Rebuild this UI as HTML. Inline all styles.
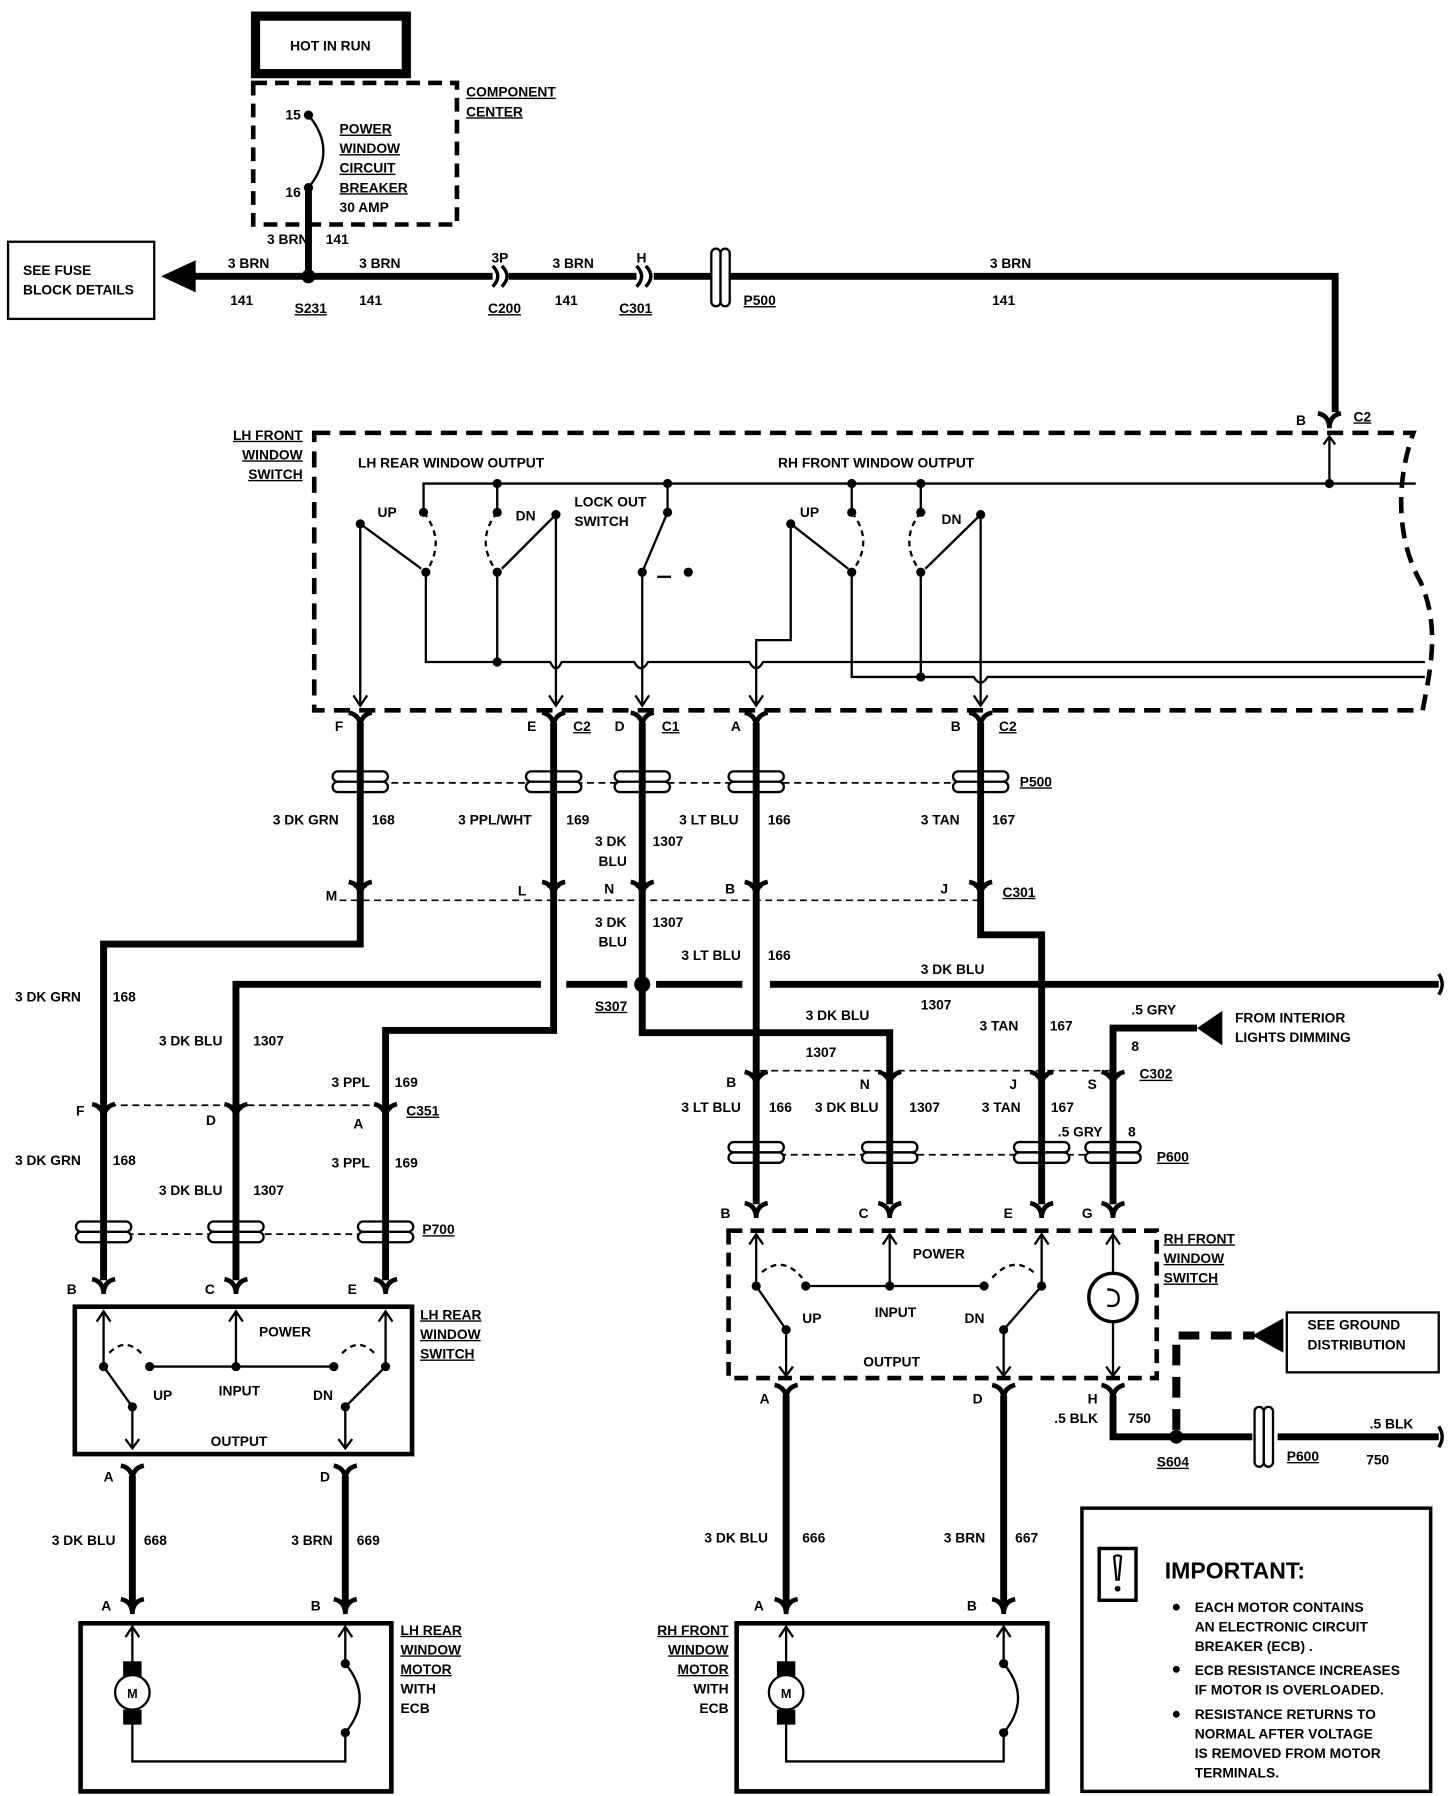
<!DOCTYPE html>
<html><head><meta charset="utf-8"><style>
html,body{margin:0;padding:0;background:#fff}
svg{display:block}
text{font-family:"Liberation Sans",sans-serif;font-weight:bold;font-size:12px;fill:#000}
.u{text-decoration:underline}
</style></head><body>
<svg width="1456" height="1796" viewBox="0 0 1265 1560" preserveAspectRatio="none" xmlns="http://www.w3.org/2000/svg">
<defs>
<g id="fk"><path d="M-10,-9 Q0,-7 0,4 M10,-9 Q0,-7 0,4" stroke="#000" stroke-width="4" fill="none"/></g>
<g id="pc"><rect x="-24" y="-9" width="48" height="9" rx="4.5" fill="#fff" stroke="#000" stroke-width="2"/><rect x="-24" y="0" width="48" height="9" rx="4.5" fill="#fff" stroke="#000" stroke-width="2"/><rect x="-3" y="-9" width="6" height="18" fill="#000"/></g>
<g id="ch"><path d="M-5,6 L0,-1 L5,6" stroke="#000" stroke-width="2" fill="none"/></g>
</defs>
<rect width="1265" height="1560" fill="#fff"/>

<!-- top -->
<rect x="222" y="14" width="131" height="50" fill="#fff" stroke="#000" stroke-width="8"/>
<text x="287" y="44" text-anchor="middle">HOT IN RUN</text>
<rect x="220" y="72" width="177" height="123" fill="none" stroke="#000" stroke-width="4" stroke-dasharray="12,7"/>
<text x="405" y="84" class="u">COMPONENT</text><text x="405" y="101" class="u">CENTER</text>
<circle cx="268" cy="100" r="4"/><circle cx="268" cy="163" r="4"/>
<path d="M268,100 Q294,131 268,163" stroke="#000" stroke-width="2" fill="none"/>
<text x="248" y="104">15</text><text x="248" y="171">16</text>
<text x="295" y="116" class="u">POWER</text><text x="295" y="133" class="u">WINDOW</text><text x="295" y="150" class="u">CIRCUIT</text><text x="295" y="167" class="u">BREAKER</text><text x="295" y="184">30 AMP</text>
<line x1="268" y1="163" x2="268" y2="240" stroke="#000" stroke-width="6"/>
<text x="232" y="212">3 BRN</text><text x="283" y="212">141</text>
<path d="M160,240 H428 M442,240 H553 M568,240 H620 M633,240 H1160 V358" stroke="#000" stroke-width="6" fill="none"/>
<polygon points="140,240 170,226 170,254"/>
<rect x="7" y="210" width="127" height="67" fill="none" stroke="#000" stroke-width="2"/>
<text x="20" y="239">SEE FUSE</text><text x="20" y="256">BLOCK DETAILS</text>
<circle cx="268" cy="240" r="6"/>
<path d="M428,231 Q437,240 428,249 M436,231 Q445,240 436,249" stroke="#000" stroke-width="3" fill="none"/>
<path d="M553,231 Q562,240 553,249 M561,231 Q570,240 561,249" stroke="#000" stroke-width="3" fill="none"/>
<rect x="618" y="216" width="8" height="50" rx="4" fill="#fff" stroke="#000" stroke-width="2"/><rect x="626" y="216" width="8" height="50" rx="4" fill="#fff" stroke="#000" stroke-width="2"/>
<text x="198" y="233">3 BRN</text><text x="200" y="265">141</text><text x="256" y="272" class="u">S231</text>
<text x="312" y="233">3 BRN</text><text x="312" y="265">141</text>
<text x="427" y="228">3P</text><text x="424" y="272" class="u">C200</text>
<text x="480" y="233">3 BRN</text><text x="482" y="265">141</text>
<text x="553" y="228">H</text><text x="538" y="272" class="u">C301</text>
<text x="646" y="265" class="u">P500</text>
<text x="860" y="233">3 BRN</text><text x="862" y="265">141</text>
<use href="#fk" x="1155" y="368"/>
<text x="1126" y="369">B</text><text x="1176" y="366" class="u">C2</text>
<line x1="1155" y1="380" x2="1155" y2="420" stroke="#000" stroke-width="2"/><use href="#ch" x="1155" y="380"/>

<!-- LH front switch box -->
<path d="M273,376 H1228 C1212,420 1214,470 1234,505 C1252,545 1242,585 1236,617 H273 Z" fill="none" stroke="#000" stroke-width="4" stroke-dasharray="14,8"/>
<text x="263" y="382" text-anchor="end" class="u">LH  FRONT</text><text x="263" y="399" text-anchor="end" class="u">WINDOW</text><text x="263" y="416" text-anchor="end" class="u">SWITCH</text>
<text x="311" y="406">LH REAR WINDOW OUTPUT</text><text x="676" y="406">RH FRONT WINDOW OUTPUT</text>
<text x="328" y="449">UP</text><text x="448" y="452">DN</text><text x="499" y="440">LOCK OUT</text><text x="499" y="457">SWITCH</text>
<text x="695" y="449">UP</text><text x="818" y="455">DN</text>
<g stroke="#000" stroke-width="2" fill="none">
<path d="M368,445 V420 H1230"/>
<path d="M432,420 V445 M580,420 V445 M740,420 V445 M800,420 V445"/>
<path d="M370,497 V575 H478 Q483,586 488,575 H551 Q557,586 563,575 H651 Q657,586 663,575 H1238"/>
<path d="M432,497 V575"/>
<path d="M313,455 V612 M483,447 V612 M558,497 V612 M657,612 V556 H687 V455 M852,447 V612"/>
<path d="M580,445 L558,497"/>
<path d="M313,455 L366,494 M483,447 L436,494 M687,455 L737,494 M852,447 L804,494"/>
<path d="M740,497 V588 H846 Q852,598 858,588 H1238 M800,497 V588"/>
<path d="M368,445 Q388,470 370,497 M432,445 Q412,470 432,497 M740,445 Q760,470 740,497 M800,445 Q780,470 800,497" stroke-dasharray="5,4"/>
<path d="M571,501 H583"/>
</g>
<g>
<circle cx="368" cy="445" r="4"/><circle cx="370" cy="497" r="4"/><circle cx="432" cy="445" r="4"/><circle cx="432" cy="497" r="4"/><circle cx="432" cy="420" r="4"/><circle cx="580" cy="420" r="4"/><circle cx="740" cy="420" r="4"/><circle cx="800" cy="420" r="4"/><circle cx="1155" cy="420" r="4"/>
<circle cx="580" cy="445" r="4"/><circle cx="558" cy="497" r="4"/><circle cx="598" cy="497" r="4"/>
<circle cx="313" cy="455" r="4"/><circle cx="483" cy="447" r="4"/><circle cx="687" cy="455" r="4"/><circle cx="852" cy="447" r="4"/>
<circle cx="740" cy="445" r="4"/><circle cx="740" cy="497" r="4"/><circle cx="800" cy="445" r="4"/><circle cx="800" cy="497" r="4"/>
<circle cx="432" cy="575" r="4"/><circle cx="800" cy="588" r="4"/>
</g>
<g stroke="#000" stroke-width="2" fill="none">
<path d="M307,604 L313,613 L319,604 M477,604 L483,613 L489,604 M552,604 L558,613 L564,604 M651,604 L657,613 L663,604 M846,604 L852,613 L858,604"/>
</g>

<!-- thick wires mid -->
<g stroke="#000" stroke-width="6" fill="none">
<path d="M313,628 V820 H90 V1112"/>
<path d="M481,628 V895 H335 V1112"/>
<path d="M558,628 V897 H773 V1046"/>
<path d="M657,628 V1046"/>
<path d="M852,628 V812 H905 V1046"/>
<path d="M205,1112 V855 H470 M492,855 H545 M570,855 H645 M669,855 H1250"/>
<path d="M1040,893 H967 V1046"/>
</g>
<circle cx="558" cy="855" r="7"/>
<path d="M1250,846 Q1256,855 1250,864" stroke="#000" stroke-width="3" fill="none"/>
<polygon points="1040,893 1062,878 1062,908"/>
<text x="1073" y="888">FROM INTERIOR</text><text x="1073" y="905">LIGHTS DIMMING</text>

<!-- connector rows -->
<use href="#fk" x="313" y="628"/><use href="#fk" x="481" y="628"/><use href="#fk" x="558" y="628"/><use href="#fk" x="657" y="628"/><use href="#fk" x="852" y="628"/>
<text x="291" y="635">F</text><text x="458" y="635">E</text><text x="498" y="635" class="u">C2</text><text x="534" y="635">D</text><text x="575" y="635" class="u">C1</text><text x="635" y="635">A</text><text x="826" y="635">B</text><text x="868" y="635" class="u">C2</text>
<line x1="290" y1="680" x2="880" y2="680" stroke="#000" stroke-width="1.5" stroke-dasharray="6,4"/>
<use href="#pc" x="313" y="679"/><use href="#pc" x="481" y="679"/><use href="#pc" x="558" y="679"/><use href="#pc" x="657" y="679"/><use href="#pc" x="852" y="679"/>
<text x="886" y="683" class="u">P500</text>
<text x="237" y="716">3 DK GRN</text><text x="323" y="716">168</text>
<text x="398" y="716">3 PPL/WHT</text><text x="492" y="716">169</text>
<text x="517" y="735">3 DK</text><text x="520" y="752">BLU</text><text x="567" y="735">1307</text>
<text x="590" y="716">3 LT BLU</text><text x="667" y="716">166</text>
<text x="800" y="716">3 TAN</text><text x="862" y="716">167</text>
<line x1="295" y1="782" x2="850" y2="782" stroke="#000" stroke-width="1.5" stroke-dasharray="6,4"/>
<use href="#fk" x="313" y="775"/><use href="#fk" x="481" y="775"/><use href="#fk" x="558" y="775"/><use href="#fk" x="657" y="775"/><use href="#fk" x="852" y="775"/>
<use href="#ch" x="313" y="765"/><use href="#ch" x="481" y="765"/><use href="#ch" x="558" y="765"/><use href="#ch" x="657" y="765"/><use href="#ch" x="852" y="765"/>
<text x="283" y="782">M</text><text x="450" y="778">L</text><text x="525" y="776">N</text><text x="630" y="776">B</text><text x="817" y="776">J</text><text x="871" y="779" class="u">C301</text>
<text x="517" y="805">3 DK</text><text x="520" y="822">BLU</text><text x="567" y="805">1307</text>
<text x="592" y="834">3 LT BLU</text><text x="667" y="834">166</text>
<text x="800" y="846">3 DK BLU</text><text x="800" y="877">1307</text>
<text x="517" y="878" class="u">S307</text>
<text x="700" y="886">3 DK BLU</text><text x="700" y="918">1307</text>
<text x="851" y="895">3 TAN</text><text x="912" y="895">167</text>
<text x="983" y="881">.5 GRY</text><text x="983" y="913">8</text>
<text x="13" y="870">3 DK GRN</text><text x="98" y="870">168</text>
<text x="138" y="908">3 DK BLU</text><text x="220" y="908">1307</text>
<text x="288" y="944">3 PPL</text><text x="343" y="944">169</text>

<!-- C351 / P700 -->
<line x1="95" y1="960" x2="330" y2="960" stroke="#000" stroke-width="1.5" stroke-dasharray="6,4"/>
<use href="#fk" x="90" y="968"/><use href="#fk" x="205" y="968"/><use href="#fk" x="335" y="968"/>
<use href="#ch" x="90" y="958"/><use href="#ch" x="205" y="958"/><use href="#ch" x="335" y="958"/>
<text x="66" y="969">F</text><text x="179" y="977">D</text><text x="307" y="980">A</text><text x="353" y="969" class="u">C351</text>
<text x="13" y="1012">3 DK GRN</text><text x="98" y="1012">168</text>
<text x="138" y="1038">3 DK BLU</text><text x="220" y="1038">1307</text>
<text x="288" y="1014">3 PPL</text><text x="343" y="1014">169</text>
<line x1="90" y1="1072" x2="335" y2="1072" stroke="#000" stroke-width="1.5" stroke-dasharray="6,4"/>
<use href="#pc" x="90" y="1070"/><use href="#pc" x="205" y="1070"/><use href="#pc" x="335" y="1070"/>
<text x="367" y="1072" class="u">P700</text>
<use href="#fk" x="90" y="1120"/><use href="#fk" x="205" y="1120"/><use href="#fk" x="335" y="1120"/>
<text x="58" y="1124">B</text><text x="178" y="1124">C</text><text x="302" y="1124">E</text>

<!-- LH rear switch -->
<rect x="65" y="1135" width="293" height="128" fill="none" stroke="#000" stroke-width="4"/>
<text x="365" y="1146" class="u">LH REAR</text><text x="365" y="1163" class="u">WINDOW</text><text x="365" y="1180" class="u">SWITCH</text>
<g stroke="#000" stroke-width="2" fill="none">
<path d="M90,1187 V1140 M84,1148 L90,1139 L96,1148 M205,1187 V1140 M199,1148 L205,1139 L211,1148 M335,1187 V1140 M329,1148 L335,1139 L341,1148"/>
<path d="M130,1187 H290"/>
<path d="M90,1187 L115,1222 V1257 M109,1250 L115,1258 L121,1250 M335,1187 L300,1222 V1257 M294,1250 L300,1258 L306,1250"/>
<path d="M95,1175 Q110,1160 125,1178 M325,1175 Q310,1160 295,1178" stroke-dasharray="5,4"/>
</g>
<circle cx="90" cy="1187" r="4"/><circle cx="130" cy="1187" r="4"/><circle cx="205" cy="1187" r="4"/><circle cx="290" cy="1187" r="4"/><circle cx="335" cy="1187" r="4"/><circle cx="115" cy="1222" r="4"/><circle cx="300" cy="1222" r="4"/>
<text x="225" y="1161">POWER</text><text x="133" y="1216">UP</text><text x="190" y="1212">INPUT</text><text x="272" y="1216">DN</text><text x="183" y="1256">OUTPUT</text>
<g stroke="#000" stroke-width="6"><line x1="115" y1="1282" x2="115" y2="1396"/><line x1="300" y1="1282" x2="300" y2="1396"/></g>
<use href="#fk" x="115" y="1282"/><use href="#fk" x="300" y="1282"/>
<text x="90" y="1287">A</text><text x="278" y="1287">D</text>
<text x="45" y="1342">3 DK BLU</text><text x="125" y="1342">668</text><text x="253" y="1342">3 BRN</text><text x="310" y="1342">669</text>
<use href="#fk" x="115" y="1398"/><use href="#fk" x="300" y="1398"/>
<text x="88" y="1399">A</text><text x="270" y="1399">B</text>

<!-- LH motor -->
<rect x="70" y="1410" width="270" height="146" fill="none" stroke="#000" stroke-width="4"/>
<g stroke="#000" stroke-width="2" fill="none">
<path d="M115,1445 V1414 M109,1422 L115,1413 L121,1422 M115,1497 V1530 H300 V1505 M300,1445 V1414 M294,1422 L300,1413 L306,1422"/>
<path d="M300,1445 Q325,1475 300,1505"/>
</g>
<rect x="107" y="1443" width="16" height="13"/><rect x="107" y="1485" width="16" height="13"/>
<circle cx="115" cy="1470" r="15" fill="#fff" stroke="#000" stroke-width="2"/><text x="115" y="1475" text-anchor="middle" style="font-size:11px">M</text>
<circle cx="300" cy="1445" r="4"/><circle cx="300" cy="1505" r="4"/>
<text x="348" y="1420" class="u">LH REAR</text><text x="348" y="1437" class="u">WINDOW</text><text x="348" y="1454" class="u">MOTOR</text><text x="348" y="1471">WITH</text><text x="348" y="1488">ECB</text>

<!-- C302 / P600 right -->
<line x1="660" y1="930" x2="965" y2="930" stroke="#000" stroke-width="1.5" stroke-dasharray="6,4"/>
<use href="#fk" x="657" y="940"/><use href="#fk" x="773" y="940"/><use href="#fk" x="905" y="940"/><use href="#fk" x="967" y="940"/>
<use href="#ch" x="657" y="930"/><use href="#ch" x="773" y="930"/><use href="#ch" x="905" y="930"/><use href="#ch" x="967" y="930"/>
<text x="631" y="944">B</text><text x="747" y="946">N</text><text x="877" y="946">J</text><text x="945" y="946">S</text><text x="990" y="937" class="u">C302</text>
<text x="592" y="966">3 LT BLU</text><text x="668" y="966">166</text><text x="708" y="966">3 DK BLU</text><text x="790" y="966">1307</text><text x="853" y="966">3 TAN</text><text x="913" y="966">167</text>
<text x="919" y="987">.5 GRY</text><text x="980" y="987">8</text>
<line x1="657" y1="1003" x2="967" y2="1003" stroke="#000" stroke-width="1.5" stroke-dasharray="6,4"/>
<use href="#pc" x="657" y="1001"/><use href="#pc" x="773" y="1001"/><use href="#pc" x="905" y="1001"/><use href="#pc" x="967" y="1001"/>
<text x="1005" y="1009" class="u">P600</text>
<use href="#fk" x="657" y="1054"/><use href="#fk" x="773" y="1054"/><use href="#fk" x="905" y="1054"/><use href="#fk" x="967" y="1054"/>
<text x="626" y="1058">B</text><text x="746" y="1058">C</text><text x="872" y="1058">E</text><text x="940" y="1058">G</text>

<!-- RH switch -->
<rect x="633" y="1069" width="372" height="128" fill="none" stroke="#000" stroke-width="4" stroke-dasharray="12,7"/>
<text x="1011" y="1080" class="u">RH FRONT</text><text x="1011" y="1097" class="u">WINDOW</text><text x="1011" y="1114" class="u">SWITCH</text>
<g stroke="#000" stroke-width="2" fill="none">
<path d="M657,1117 V1073 M651,1081 L657,1072 L663,1081 M773,1117 V1073 M767,1081 L773,1072 L779,1081 M905,1117 V1073 M899,1081 L905,1072 L911,1081"/>
<path d="M700,1117 H855"/>
<path d="M657,1117 L683,1155 V1194 M677,1187 L683,1195 L689,1187 M905,1117 L872,1155 V1194 M866,1187 L872,1195 L878,1187"/>
<path d="M662,1105 Q680,1090 697,1110 M898,1105 Q880,1090 862,1110" stroke-dasharray="5,4"/>
<path d="M967,1072 V1107 M967,1147 V1194 M961,1081 L967,1072 L973,1081 M961,1187 L967,1195 L973,1187"/>
<path d="M962,1120 Q972,1120 972,1128 Q972,1136 962,1134"/>
</g>
<circle cx="967" cy="1127" r="21" fill="none" stroke="#000" stroke-width="3"/>
<circle cx="657" cy="1117" r="4"/><circle cx="700" cy="1117" r="4"/><circle cx="773" cy="1117" r="4"/><circle cx="855" cy="1117" r="4"/><circle cx="905" cy="1117" r="4"/><circle cx="683" cy="1155" r="4"/><circle cx="872" cy="1155" r="4"/>
<text x="793" y="1093">POWER</text><text x="697" y="1149">UP</text><text x="760" y="1144">INPUT</text><text x="838" y="1149">DN</text><text x="750" y="1187">OUTPUT</text>
<g stroke="#000" stroke-width="6" fill="none"><line x1="683" y1="1212" x2="683" y2="1396"/><line x1="872" y1="1212" x2="872" y2="1396"/>
<path d="M967,1212 V1248 H1088 M1110,1248 H1250"/></g>
<use href="#fk" x="683" y="1212"/><use href="#fk" x="872" y="1212"/><use href="#fk" x="967" y="1212"/>
<text x="660" y="1219">A</text><text x="845" y="1219">D</text><text x="945" y="1219">H</text>
<text x="916" y="1236">.5 BLK</text><text x="980" y="1236">750</text>
<circle cx="1022" cy="1248" r="6"/>
<path d="M1022,1242 V1160 H1090" stroke="#000" stroke-width="7" fill="none" stroke-dasharray="18,10"/>
<polygon points="1088,1160 1115,1145 1115,1175"/>
<rect x="1118" y="1140" width="132" height="52" fill="none" stroke="#000" stroke-width="2"/>
<text x="1136" y="1155">SEE GROUND</text><text x="1136" y="1172">DISTRIBUTION</text>
<rect x="1090" y="1222" width="8" height="52" rx="4" fill="#fff" stroke="#000" stroke-width="2"/><rect x="1098" y="1222" width="8" height="52" rx="4" fill="#fff" stroke="#000" stroke-width="2"/>
<path d="M1250,1239 Q1256,1248 1250,1257" stroke="#000" stroke-width="3" fill="none"/>
<text x="1005" y="1274" class="u">S604</text><text x="1118" y="1269" class="u">P600</text>
<text x="1190" y="1241">.5 BLK</text><text x="1187" y="1272">750</text>
<text x="612" y="1340">3 DK BLU</text><text x="697" y="1340">666</text><text x="820" y="1340">3 BRN</text><text x="882" y="1340">667</text>
<use href="#fk" x="683" y="1398"/><use href="#fk" x="872" y="1398"/>
<text x="655" y="1399">A</text><text x="840" y="1399">B</text>

<!-- RH motor -->
<rect x="640" y="1410" width="270" height="146" fill="none" stroke="#000" stroke-width="4"/>
<g stroke="#000" stroke-width="2" fill="none">
<path d="M683,1445 V1414 M677,1422 L683,1413 L689,1422 M683,1497 V1530 H872 V1505 M872,1445 V1414 M866,1422 L872,1413 L878,1422"/>
<path d="M872,1445 Q897,1475 872,1505"/>
</g>
<rect x="675" y="1443" width="16" height="13"/><rect x="675" y="1485" width="16" height="13"/>
<circle cx="683" cy="1470" r="15" fill="#fff" stroke="#000" stroke-width="2"/><text x="683" y="1475" text-anchor="middle" style="font-size:11px">M</text>
<circle cx="872" cy="1445" r="4"/><circle cx="872" cy="1505" r="4"/>
<text x="633" y="1420" text-anchor="end" class="u">RH FRONT</text><text x="633" y="1437" text-anchor="end" class="u">WINDOW</text><text x="633" y="1454" text-anchor="end" class="u">MOTOR</text><text x="633" y="1471" text-anchor="end">WITH</text><text x="633" y="1488" text-anchor="end">ECB</text>

<!-- important -->
<rect x="940" y="1310" width="303" height="246" fill="none" stroke="#000" stroke-width="3"/>
<rect x="955" y="1345" width="32" height="45" fill="none" stroke="#000" stroke-width="3"/>
<path d="M968,1352 Q971,1350 974,1352 L972,1372 H970 Z" fill="none" stroke="#000" stroke-width="2"/><circle cx="971" cy="1380" r="2.5"/>
<text x="1012" y="1371" style="font-size:20px">IMPORTANT:</text>
<circle cx="1022" cy="1396" r="3"/><circle cx="1022" cy="1450" r="3"/><circle cx="1022" cy="1489" r="3"/>
<text x="1038" y="1400">EACH MOTOR CONTAINS</text><text x="1038" y="1417">AN ELECTRONIC CIRCUIT</text><text x="1038" y="1434">BREAKER (ECB) .</text>
<text x="1038" y="1455">ECB RESISTANCE INCREASES</text><text x="1038" y="1472">IF MOTOR IS OVERLOADED.</text>
<text x="1038" y="1493">RESISTANCE RETURNS TO</text><text x="1038" y="1510">NORMAL AFTER VOLTAGE</text><text x="1038" y="1527">IS REMOVED FROM MOTOR</text><text x="1038" y="1544">TERMINALS.</text>
</svg>
</body></html>
